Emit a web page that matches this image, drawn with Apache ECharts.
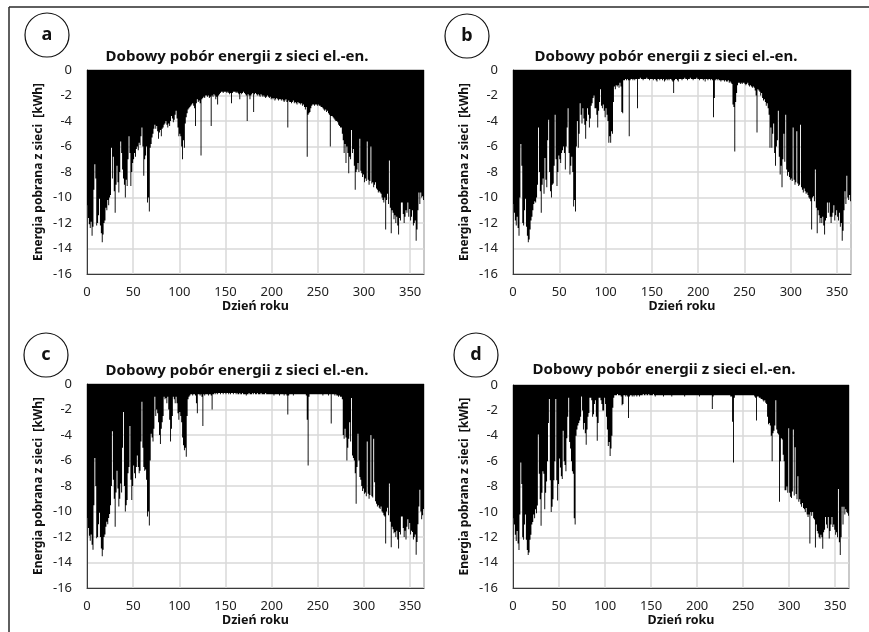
<!DOCTYPE html>
<html>
<head>
<meta charset="utf-8">
<script src="https://cdn.jsdelivr.net/npm/echarts@6/dist/echarts.min.js"></script>
<style>
html,body{margin:0;padding:0;background:#fff;}
#chart{width:869px;height:632px;}
</style>
</head>
<body>
<div id="chart"></div>
<script>
// Tick labels / axis extents
const yTicks = [0, -2, -4, -6, -8, -10, -12, -14, -16];
const xTicks = [0, 50, 100, 150, 200, 250, 300, 350];
const panelLetters = ['a', 'b', 'c', 'd'];
const chartTitle = 'Dobowy pobór energii z sieci el.-en.';
const yName = 'Energia pobrana z sieci  [kWh]';
const xName = 'Dzień roku';

// Daily grid energy draw [kWh], day 1..365
const panelA = [
-10.6,-11.6,-12.1,-12.4,-11.9,-13.0,-12.3,-9.4,-7.4,-8.5,
-12.2,-12.0,-11.4,-10.1,-12.2,-12.8,-13.5,-12.9,-12.0,-11.8,
-10.8,-11.0,-10.2,-10.6,-10.0,-9.8,-6.1,-8.5,-6.8,-9.5,
-11.2,-9.0,-7.5,-8.8,-9.6,-8.0,-5.6,-6.5,-7.8,-8.5,
-9.0,-10.0,-8.6,-9.1,-7.0,-5.2,-6.5,-9.1,-8.0,-7.3,
-7.0,-6.5,-6.8,-6.2,-6.0,-6.3,-5.7,-5.9,-5.2,-4.5,
-6.0,-8.3,-7.0,-6.7,-6.0,-10.4,-10.0,-11.1,-6.1,-5.8,
-5.3,-5.0,-4.6,-4.3,-4.6,-4.4,-4.8,-5.4,-4.9,-4.7,
-5.2,-4.6,-4.5,-4.3,-4.2,-4.0,-4.3,-4.5,-4.2,-4.4,
-4.0,-3.6,-3.8,-4.1,-3.9,-3.5,-3.2,-3.8,-4.5,-5.2,
-5.0,-5.2,-6.0,-7.0,-5.5,-6.1,-4.2,-3.7,-3.4,-3.1,
-3.0,-2.9,-2.8,-2.7,-2.6,-2.8,-3.0,-4.4,-2.6,-2.3,
-2.5,-2.4,-2.6,-6.7,-2.3,-2.2,-2.1,-2.2,-2.0,-2.0,
-2.1,-2.0,-2.2,-2.1,-4.4,-2.0,-2.1,-1.9,-2.0,-2.3,
-2.1,-2.7,-2.0,-1.9,-1.8,-1.7,-1.7,-1.8,-1.7,-1.7,
-1.7,-1.8,-1.7,-1.8,-1.9,-1.8,-2.6,-1.8,-1.7,-1.7,
-1.7,-1.8,-1.7,-1.8,-1.9,-2.3,-1.8,-1.9,-1.8,-1.7,
-1.8,-1.9,-2.0,-4.0,-1.9,-2.0,-2.3,-2.0,-1.9,-1.8,
-3.3,-1.9,-1.8,-1.9,-2.0,-1.9,-2.0,-2.1,-1.9,-2.0,
-2.1,-2.0,-2.1,-2.2,-2.1,-2.0,-2.1,-2.2,-2.1,-2.3,
-2.2,-2.3,-2.2,-2.4,-2.3,-2.2,-2.3,-2.4,-2.3,-2.3,
-2.4,-2.3,-2.4,-2.5,-2.4,-2.3,-2.5,-4.5,-2.4,-2.5,
-2.5,-2.6,-2.5,-2.4,-2.6,-2.5,-2.6,-2.7,-2.5,-2.6,
-2.6,-2.7,-2.6,-2.8,-2.7,-2.9,-3.1,-2.9,-6.8,-3.5,
-3.4,-3.3,-3.0,-2.8,-2.7,-2.7,-2.8,-2.7,-2.7,-2.8,
-2.7,-2.8,-2.8,-2.9,-2.9,-3.0,-3.1,-3.2,-3.1,-3.3,
-3.2,-3.4,-3.5,-6.0,-3.6,-3.6,-3.7,-3.8,-3.9,-4.0,
-4.0,-4.1,-4.3,-4.4,-4.5,-4.5,-5.0,-5.5,-6.5,-5.8,
-7.3,-6.0,-6.5,-8.1,-6.8,-7.0,-4.7,-6.5,-6.2,-7.5,
-9.4,-8.0,-7.8,-7.3,-8.0,-5.4,-7.9,-8.1,-8.4,-8.2,
-8.8,-8.5,-8.7,-5.6,-8.6,-9.0,-8.7,-6.0,-8.9,-8.8,
-9.2,-9.0,-8.8,-9.3,-9.4,-9.6,-9.5,-9.6,-9.7,-10.0,
-10.2,-10.4,-10.0,-12.5,-10.2,-9.7,-10.5,-7.1,-10.8,-12.8,
-11.0,-11.2,-11.7,-11.4,-12.0,-11.5,-12.2,-12.9,-11.6,-11.8,
-10.4,-10.4,-11.3,-12.0,-11.5,-11.0,-11.2,-10.4,-11.5,-10.9,
-11.8,-11.5,-11.0,-12.2,-12.0,-11.8,-13.4,-12.5,-11.0,-9.6,
-10.5,-9.6,-10.0,-9.9,-10.2
];

const panelB = [
-10.5,-11.2,-11.8,-12.2,-11.5,-12.4,-13.0,-10.0,-5.8,-7.5,
-12.0,-12.2,-11.0,-10.1,-12.3,-13.0,-13.5,-13.3,-12.5,-11.8,
-11.5,-11.0,-10.5,-10.3,-10.4,-10.0,-9.0,-4.5,-8.0,-9.5,
-11.2,-9.0,-8.5,-9.7,-6.9,-8.6,-9.2,-5.5,-3.9,-8.0,
-9.5,-10.0,-9.0,-8.9,-7.5,-3.5,-7.0,-9.1,-8.0,-6.7,
-7.0,-7.3,-6.5,-6.3,-6.0,-6.5,-7.8,-6.0,-4.5,-3.0,
-6.5,-8.2,-7.5,-6.8,-8.0,-10.7,-10.2,-11.1,-6.0,-4.0,
-6.1,-5.0,-2.6,-3.5,-4.2,-3.0,-3.8,-4.3,-5.4,-4.0,
-3.0,-3.5,-4.5,-3.8,-2.8,-2.6,-2.2,-2.0,-3.0,-3.0,
-3.5,-4.5,-3.2,-2.5,-1.5,-2.8,-3.0,-2.7,-3.2,-3.7,
-3.0,-3.5,-4.0,-5.7,-5.2,-5.7,-4.8,-5.0,-2.5,-1.3,
-1.5,-1.2,-1.3,-1.2,-1.4,-1.0,-1.3,-3.3,-3.4,-0.8,
-0.8,-0.7,-0.8,-0.7,-0.8,-5.2,-0.8,-0.7,-0.7,-0.8,
-0.7,-0.8,-0.7,-0.7,-3.0,-0.7,-0.7,-0.6,-0.7,-0.7,
-0.8,-0.7,-0.7,-0.7,-0.6,-0.7,-0.7,-0.8,-0.7,-0.7,
-0.7,-0.8,-0.7,-0.7,-0.8,-0.9,-0.7,-0.7,-0.8,-0.7,
-0.7,-0.8,-0.7,-0.9,-0.8,-0.7,-0.8,-0.7,-0.8,-0.7,
-0.7,-0.8,-0.9,-1.8,-0.8,-0.7,-0.7,-0.8,-0.9,-0.7,
-0.7,-0.7,-0.8,-0.7,-0.7,-0.6,-0.7,-0.7,-0.8,-0.7,
-0.7,-0.6,-0.7,-0.7,-0.8,-0.7,-0.7,-0.7,-0.6,-0.7,
-0.7,-0.8,-0.7,-0.7,-0.7,-0.8,-0.7,-0.9,-0.7,-0.7,
-0.8,-0.7,-0.7,-0.8,-0.7,-0.8,-3.7,-2.2,-0.8,-0.7,
-0.8,-0.7,-0.8,-0.8,-0.9,-0.8,-0.8,-0.8,-0.9,-0.8,
-0.9,-0.9,-0.8,-1.0,-0.9,-1.0,-1.1,-2.7,-2.9,-6.4,
-2.5,-1.8,-1.2,-1.0,-1.0,-1.1,-1.0,-1.1,-1.0,-1.0,
-1.1,-1.2,-1.1,-1.0,-1.2,-1.3,-1.2,-1.3,-1.4,-1.3,
-1.4,-1.6,-2.0,-4.9,-1.5,-1.6,-1.7,-2.0,-1.8,-2.2,
-2.4,-2.3,-2.5,-2.8,-2.6,-3.0,-3.5,-6.1,-4.5,-6.1,
-5.0,-4.2,-6.5,-7.5,-6.0,-5.5,-3.2,-6.8,-8.2,-7.5,
-9.2,-7.0,-5.0,-7.2,-3.5,-7.8,-8.3,-8.0,-8.4,-8.6,
-8.5,-8.7,-4.5,-8.6,-9.0,-8.8,-4.8,-8.9,-9.1,-9.0,
-4.3,-9.2,-9.4,-9.6,-9.3,-9.5,-9.7,-9.6,-9.8,-10.0,
-10.1,-10.3,-12.5,-10.0,-9.9,-10.3,-7.8,-10.8,-12.8,-11.0,
-11.4,-12.0,-11.6,-12.0,-11.5,-12.2,-12.9,-11.8,-11.6,-10.4,
-11.2,-10.4,-11.5,-12.0,-11.5,-11.2,-10.6,-11.8,-11.4,-11.0,
-11.5,-11.8,-11.2,-12.3,-12.0,-13.4,-12.6,-11.0,-9.5,-10.5,
-8.3,-10.0,-10.2,-9.8,-10.3
];

const panelC = [
-10.5,-11.3,-11.9,-12.3,-11.8,-12.6,-13.0,-9.5,-5.8,-8.0,
-12.1,-12.0,-11.0,-10.1,-12.0,-12.9,-13.5,-13.0,-12.0,-11.8,
-11.2,-10.8,-11.0,-10.5,-10.2,-9.5,-8.0,-3.7,-7.5,-9.0,
-11.2,-8.5,-6.8,-8.2,-9.6,-9.0,-7.8,-8.5,-5.0,-2.2,
-8.0,-10.0,-9.5,-9.1,-7.0,-6.5,-3.3,-7.5,-9.1,-8.0,
-6.4,-7.0,-7.4,-6.5,-5.6,-6.5,-7.0,-6.8,-4.5,-1.4,
-5.0,-6.5,-6.8,-6.7,-7.5,-10.4,-10.0,-11.1,-6.0,-3.9,
-4.2,-4.5,-3.5,-1.0,-2.5,-2.0,-2.3,-3.0,-4.0,-4.7,
-3.5,-3.0,-2.5,-1.0,-1.2,-1.1,-1.5,-1.0,-2.0,-2.8,
-4.5,-3.5,-2.5,-1.0,-1.2,-1.5,-1.0,-1.5,-2.3,-2.8,
-2.2,-2.5,-3.0,-4.2,-4.8,-5.2,-5.0,-5.7,-2.5,-1.2,
-1.0,-0.9,-0.8,-0.8,-0.9,-0.8,-0.8,-0.9,-1.5,-2.3,
-0.8,-0.8,-0.9,-0.8,-1.0,-3.3,-0.8,-0.9,-0.8,-0.8,
-0.8,-0.9,-0.8,-0.8,-0.9,-2.0,-0.8,-0.8,-0.7,-0.8,
-0.7,-0.8,-0.7,-0.7,-0.8,-0.7,-0.7,-0.8,-0.7,-0.7,
-0.8,-0.7,-0.7,-0.8,-0.7,-0.8,-0.7,-0.7,-0.8,-0.7,
-0.7,-0.8,-0.7,-0.8,-0.8,-0.7,-0.8,-0.8,-0.7,-0.8,
-0.8,-0.8,-0.9,-0.8,-0.8,-0.7,-0.8,-0.8,-0.8,-0.7,
-0.8,-0.7,-0.8,-0.8,-0.7,-0.8,-0.8,-0.8,-0.7,-0.8,
-0.8,-0.8,-0.8,-0.7,-0.8,-0.8,-0.8,-0.8,-0.8,-0.8,
-0.8,-0.8,-0.9,-0.8,-0.8,-0.8,-0.8,-0.8,-0.9,-0.8,
-0.8,-0.8,-0.8,-0.9,-0.8,-0.8,-0.9,-2.4,-0.9,-0.8,
-0.8,-0.8,-0.8,-0.9,-0.8,-0.8,-0.8,-0.8,-0.8,-0.8,
-0.8,-0.8,-0.8,-0.8,-0.8,-0.8,-0.8,-0.9,-2.8,-6.4,
-1.0,-0.8,-0.8,-0.8,-0.8,-0.8,-0.8,-0.8,-0.8,-0.8,
-0.8,-0.8,-0.8,-0.8,-0.8,-0.9,-0.8,-0.8,-0.8,-0.8,
-0.8,-0.9,-0.8,-0.8,-3.1,-0.8,-0.8,-0.8,-0.9,-0.8,
-0.9,-0.9,-1.0,-0.9,-1.0,-1.0,-1.2,-4.0,-4.3,-3.5,
-4.2,-6.0,-5.0,-4.3,-3.0,-4.5,-1.1,-5.6,-5.8,-6.0,
-7.0,-9.4,-6.5,-3.9,-6.0,-7.3,-7.5,-8.0,-8.4,-8.2,
-8.6,-8.5,-8.8,-4.5,-8.6,-9.0,-8.7,-4.0,-8.8,-8.9,
-4.3,-7.7,-9.2,-9.4,-9.6,-9.5,-9.7,-9.8,-9.6,-10.0,
-10.1,-10.3,-10.4,-12.5,-10.0,-9.7,-10.3,-7.8,-10.8,-12.8,
-11.2,-11.4,-11.7,-11.6,-12.0,-11.5,-12.2,-12.9,-11.6,-11.8,
-10.4,-10.4,-11.3,-12.0,-11.5,-12.2,-11.2,-10.6,-11.4,-10.9,
-11.8,-11.5,-11.6,-12.2,-12.0,-11.8,-13.4,-12.4,-11.0,-9.6,
-8.3,-10.0,-10.6,-10.3,-9.8
];

const panelD = [
-10.5,-11.0,-11.8,-12.3,-11.5,-12.5,-13.0,-10.2,-6.1,-7.8,
-12.0,-12.2,-11.0,-10.2,-12.2,-13.0,-13.4,-13.2,-12.2,-11.8,
-11.0,-10.8,-10.2,-10.5,-9.8,-10.1,-9.5,-3.9,-7.0,-9.0,
-11.1,-8.5,-6.8,-7.0,-9.8,-8.5,-7.6,-6.0,-3.0,-1.1,
-7.5,-10.0,-9.6,-9.0,-7.5,-6.0,-1.1,-7.5,-9.1,-7.8,
-5.8,-6.5,-7.2,-7.4,-3.6,-6.0,-6.3,-6.8,-4.2,-2.5,
-1.0,-4.5,-5.0,-6.0,-6.8,-7.0,-10.5,-11.0,-4.0,-3.5,
-3.2,-3.0,-2.8,-2.5,-0.9,-2.0,-3.5,-3.0,-3.8,-4.7,
-3.5,-2.5,-2.2,-1.0,-1.0,-1.2,-2.5,-2.3,-1.5,-1.2,
-2.5,-4.4,-3.0,-1.0,-1.0,-1.2,-1.5,-2.0,-2.0,-1.0,
-1.5,-2.5,-3.5,-4.8,-4.5,-5.6,-5.0,-4.0,-1.8,-1.0,
-0.8,-0.8,-0.8,-0.7,-0.8,-0.8,-0.8,-0.9,-1.6,-1.5,
-0.8,-0.8,-0.9,-0.8,-0.9,-2.6,-0.9,-0.8,-0.8,-0.9,
-0.8,-0.9,-0.8,-0.8,-0.9,-0.8,-0.8,-0.9,-0.8,-0.8,
-0.8,-0.7,-0.8,-0.8,-0.7,-0.8,-0.8,-0.7,-0.8,-0.8,
-0.8,-0.8,-0.7,-0.8,-0.9,-0.8,-0.8,-0.8,-0.8,-0.8,
-0.8,-0.8,-0.8,-0.9,-0.8,-0.8,-0.8,-0.8,-0.8,-0.8,
-0.8,-0.8,-0.9,-0.8,-0.8,-0.8,-0.8,-0.8,-0.8,-0.8,
-0.8,-0.8,-0.8,-0.8,-0.8,-0.8,-0.9,-0.8,-0.8,-0.8,
-0.8,-0.8,-0.8,-0.8,-0.8,-0.8,-0.8,-0.8,-0.8,-0.8,
-0.8,-0.8,-0.9,-0.8,-0.8,-0.8,-0.8,-0.8,-0.8,-0.8,
-0.8,-0.8,-0.8,-0.8,-0.8,-0.8,-1.9,-0.9,-0.8,-0.8,
-0.8,-0.8,-0.8,-0.8,-0.8,-0.8,-0.8,-0.8,-0.8,-0.8,
-0.8,-0.8,-0.8,-0.8,-0.8,-0.8,-0.9,-0.9,-2.9,-6.1,
-1.0,-0.8,-0.8,-0.8,-0.8,-0.8,-0.8,-0.8,-0.8,-0.8,
-0.8,-0.8,-0.8,-0.8,-0.8,-0.8,-0.8,-0.8,-0.8,-0.8,
-0.8,-0.8,-0.9,-1.0,-2.8,-0.9,-0.9,-1.0,-1.0,-1.1,
-1.1,-1.2,-1.3,-1.2,-1.4,-1.5,-2.5,-3.1,-3.0,-3.2,
-4.0,-6.0,-3.8,-3.6,-3.2,-1.2,-3.5,-3.8,-3.9,-9.2,
-6.0,-4.2,-4.3,-5.5,-6.0,-8.3,-8.3,-8.0,-8.5,-3.4,
-8.5,-8.8,-8.9,-8.4,-3.5,-8.7,-4.9,-8.6,-9.0,-7.2,
-9.2,-9.0,-9.4,-9.6,-9.3,-9.7,-9.8,-10.0,-9.7,-10.2,
-10.4,-10.2,-12.5,-10.0,-10.3,-10.0,-10.5,-10.6,-12.8,-11.0,
-11.5,-11.7,-12.0,-12.1,-11.8,-12.0,-12.9,-11.6,-11.4,-10.4,
-11.0,-11.3,-10.4,-12.1,-11.5,-11.0,-10.4,-11.2,-11.0,-11.4,
-11.8,-11.6,-12.0,-8.2,-12.4,-13.4,-12.0,-9.6,-11.0,-9.6,
-10.2,-9.8,-10.0,-10.1,-10.3
];

const panels = [panelA, panelB, panelC, panelD];

// layout
const grids = [
  {left: 87, top: 70, width: 337, height: 204},
  {left: 513, top: 70, width: 338, height: 204},
  {left: 87, top: 384, width: 337, height: 204},
  {left: 513, top: 385, width: 336, height: 203}
];
const titlePos = [[232, 44], [661, 44], [232, 358], [659, 357]];
const circlePos = [[47, 35], [467, 36], [46, 355], [476, 355]];

const FONT = 'Noto Sans';
const chart = echarts.init(document.getElementById('chart'), null, {renderer: 'canvas'});

const option = {
  backgroundColor: '#fff',
  animation: false,
  title: titlePos.map(p => ({
    text: chartTitle, left: p[0], top: p[1], textAlign: 'center',
    textStyle: {fontFamily: FONT, fontSize: 15, fontWeight: 'bold', color: '#111'}
  })),
  grid: grids.map(g => Object.assign({show: true, borderColor: '#3a3a3a', borderWidth: 1, backgroundColor: 'transparent'}, g)),
  xAxis: grids.map((g, i) => ({
    type: 'value', gridIndex: i, min: xTicks[0], max: 365, interval: 50,
    name: xName, nameLocation: 'middle', nameGap: 26,
    nameTextStyle: {fontFamily: FONT, fontSize: 12.5, fontWeight: 'bold', color: '#111'},
    axisLine: {show: true, onZero: false, lineStyle: {color: '#3a3a3a', width: 1}},
    axisTick: {show: false},
    axisLabel: {fontFamily: FONT, fontSize: 13, color: '#222', margin: 12, showMaxLabel: false},
    splitLine: {show: true, lineStyle: {color: '#d9d9d9', width: 1.5}}
  })),
  yAxis: grids.map((g, i) => ({
    type: 'value', gridIndex: i, min: yTicks[yTicks.length - 1], max: yTicks[0], interval: 2,
    name: yName, nameLocation: 'middle', nameGap: 42, nameRotate: 90,
    nameTextStyle: {fontFamily: FONT, fontSize: 12, fontWeight: 'bold', color: '#111'},
    axisLine: {show: true, lineStyle: {color: '#3a3a3a', width: 1}},
    axisTick: {show: false},
    axisLabel: {fontFamily: FONT, fontSize: 13, color: '#222', margin: 15},
    splitLine: {show: true, lineStyle: {color: '#d9d9d9', width: 1.5}}
  })),
  series: panels.map((vals, i) => ({
    type: 'bar', xAxisIndex: i, yAxisIndex: i,
    large: true, largeThreshold: 100,
    barWidth: '100%',
    itemStyle: {color: '#000'},
    emphasis: {disabled: true},
    data: vals.map((v, d) => [d + 0.5, v])
  })),
  graphic: [
    {type: 'line', shape: {x1: 9, y1: 7, x2: 869, y2: 7}, style: {stroke: '#2a2a2a', lineWidth: 1.5}},
    {type: 'line', shape: {x1: 9, y1: 7, x2: 9, y2: 632}, style: {stroke: '#2a2a2a', lineWidth: 1.5}}
  ].concat(circlePos.map((c, i) => ({
    type: 'group', x: c[0], y: c[1],
    children: [
      {type: 'circle', shape: {cx: 0, cy: 0, r: 22}, style: {fill: '#fff', stroke: '#111', lineWidth: 1.2}},
      {type: 'text', x: 0, y: 0, style: {text: panelLetters[i], fontFamily: FONT, fontSize: 18, fontWeight: 'bold', fill: '#111', align: 'center', verticalAlign: 'middle'}}
    ]
  })))
};
chart.setOption(option);
</script>
</body>
</html>
